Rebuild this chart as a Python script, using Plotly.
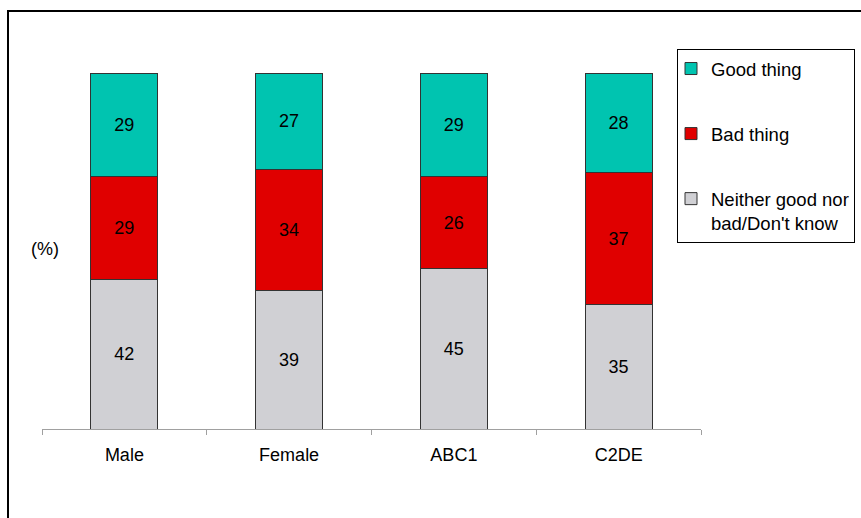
import plotly.graph_objects as go

# Survey breakdown by gender and social grade (percentages)
categories = ["Male", "Female", "ABC1", "C2DE"]
neither = [42, 39, 45, 35]
bad = [29, 34, 26, 37]
good = [29, 27, 29, 28]

# stacked bottom to top; legend rank lists the top segment first
series = [
    ("Neither good nor<br>bad/Don't know", neither, "#D0D0D4", 3),
    ("Bad thing", bad, "#E00000", 2),
    ("Good thing", good, "#00C4B0", 1),
]

FONT = "Liberation Sans, Arial, sans-serif"
W, H = 861, 518
ML, MR, MT, MB = 42, 160, 73, 89
PW, PH = W - ML - MR, H - MT - MB

fig = go.Figure()
for i, (name, vals, color, rank) in enumerate(series):
    fig.add_trace(go.Bar(
        x=categories, y=vals, name=name,
        marker=dict(color=color, line=dict(color="#333333", width=1)),
        text=[str(v) for v in vals],
        textposition="inside", insidetextanchor="middle",
        textangle=0, constraintext="none",
        textfont=dict(family=FONT, size=18, color="black"),
        legendgroup=f"g{i}", legendrank=rank,
        hoverinfo="x+y+name",
    ))


def px_x(px):
    return (px - ML) / PW


def px_y(py):
    return (H - MB - py) / PH


fig.update_layout(
    width=W, height=H,
    margin=dict(l=ML, r=MR, t=MT, b=MB, autoexpand=False),
    barmode="stack", bargap=0.593,
    plot_bgcolor="white", paper_bgcolor="white",
    font=dict(family=FONT, size=18, color="black"),
    xaxis=dict(
        showline=True, linecolor="#A0A0A0", linewidth=1,
        ticks="outside", tickson="boundaries", ticklen=5,
        tickcolor="#A0A0A0", showgrid=False, zeroline=False,
        ticklabelstandoff=9,
        tickfont=dict(family=FONT, size=18),
    ),
    yaxis=dict(range=[0, 100], visible=False, showgrid=False, zeroline=False),
    legend=dict(
        x=px_x(677), y=px_y(49), xanchor="left", yanchor="top",
        bordercolor="black", borderwidth=1, bgcolor="white",
        traceorder="grouped", tracegroupgap=38, indentation=-7,
        font=dict(family=FONT, size=18.5), valign="top",
    ),
    annotations=[dict(
        text="(%)", xref="paper", yref="paper",
        x=px_x(45), y=px_y(249), xanchor="center", yanchor="middle",
        showarrow=False, font=dict(family=FONT, size=18),
    )],
    shapes=[dict(
        type="rect", xref="paper", yref="paper",
        x0=px_x(8), x1=px_x(900), y0=px_y(560), y1=px_y(11),
        line=dict(color="black", width=2), layer="below",
    )],
)

fig.write_html("out.html")
